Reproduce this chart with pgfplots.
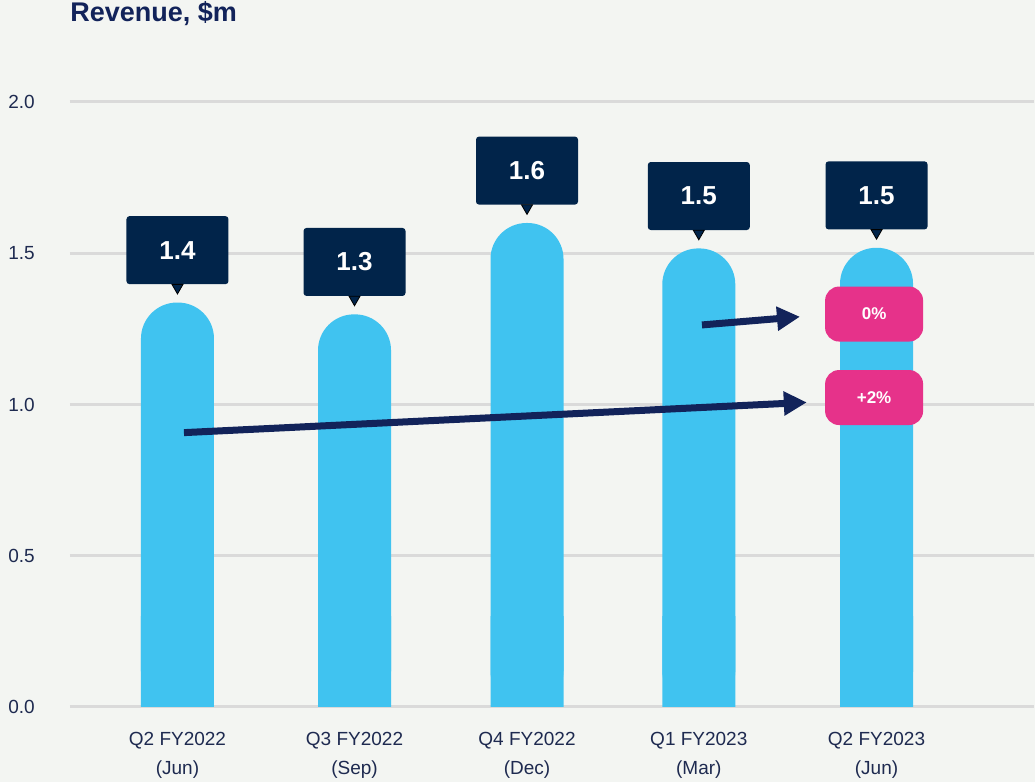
\documentclass[border=0pt]{standalone}
\usepackage{pgfplots}
\pgfplotsset{compat=1.18}
\usepackage{pgfplotstable}
\usepackage{fontspec}
\setmainfont{Liberation Sans}
\usetikzlibrary{arrows.meta}
\definecolor{bgc}{RGB}{243,245,242}
\definecolor{barc}{RGB}{64,195,240}
\definecolor{navy}{RGB}{1,36,74}
\definecolor{arrowc}{RGB}{18,35,90}
\definecolor{pinkc}{RGB}{230,50,138}
\definecolor{gridc}{RGB}{218,218,218}
\definecolor{tickc}{RGB}{30,42,80}

\pgfplotstableread{
x v base lab
0 1.337 0.3 1.4
1.013 1.298 0.3 1.3
2 1.600 0.3 1.6
2.983 1.516 0.3 1.5
4 1.518 0.3 1.5
}\revenue

\begin{document}
\begin{tikzpicture}
\useasboundingbox (-35pt,-37.5pt) rectangle (482.5pt,353.5pt);
\fill[bgc] (-35pt,-37.5pt) rectangle (482.5pt,353.5pt);
\begin{axis}[
  scale only axis, width=482pt, height=302.5pt,
  at={(0,0)}, anchor=south west,
  xmin=-0.615, xmax=4.901, ymin=0, ymax=2,
  clip=false,
  axis line style={draw=none},
  major tick length=0pt,
  ytick={0,0.5,1,1.5,2},
  yticklabels={0.0,0.5,1.0,1.5,2.0},
  ymajorgrids, grid style={gridc, line width=1.5pt},
  yticklabel style={font=\fontsize{9.5}{11}\selectfont, text=tickc, anchor=west, inner sep=0pt, xshift=-31pt},
  xtick={0,1.013,2,2.983,4},
  xticklabels={Q2 FY2022\\(Jun), Q3 FY2022\\(Sep), Q4 FY2022\\(Dec), Q1 FY2023\\(Mar), Q2 FY2023\\(Jun)},
  xticklabel style={align=center, font=\fontsize{9.5}{14.5}\selectfont, text=tickc, yshift=-9pt},
]
\addplot[ybar, bar width=36.5pt, fill=barc, draw=none] table[x=x, y=base] {\revenue};
\addplot[ybar, bar width=36.5pt, fill=barc, draw=none, rounded corners=18pt,
  nodes near coords, point meta=explicit symbolic,
  every node near coord/.append style={rectangle, fill=navy, text=white,
    font=\bfseries\fontsize{13}{15}\selectfont, minimum width=51pt, minimum height=34pt,
    inner sep=0pt, rounded corners=1.5pt, anchor=south, yshift=9pt}
  ] table[x=x, y=v, meta=lab] {\revenue};
% callout pointers
\addplot[only marks, mark=triangle*, mark size=3.2pt,
  mark options={fill=navy, draw=none, yshift=7.5pt, rotate=180}] table[x=x, y=v] {\revenue};

\draw[arrowc, line width=3.5pt, -{Triangle[length=11.5pt,width=11.5pt]}] (axis cs:3.001,1.263) -- (axis cs:3.562,1.290);
\draw[arrowc, line width=3.5pt, -{Triangle[length=11.5pt,width=11.5pt]}] (axis cs:0.037,0.907) -- (axis cs:3.601,1.007);

\node[fill=pinkc, text=white, font=\bfseries\fontsize{8.5}{10}\selectfont, minimum width=49pt, minimum height=27.5pt, rounded corners=7pt, inner sep=0pt] at (axis cs:3.986,1.299) {0\%};
\node[fill=pinkc, text=white, font=\bfseries\fontsize{8.5}{10}\selectfont, minimum width=49pt, minimum height=27.5pt, rounded corners=7pt, inner sep=0pt] at (axis cs:3.986,1.023) {+2\%};

\node[anchor=west, inner sep=0pt, font=\bfseries\fontsize{13.5}{16}\selectfont, text=arrowc] at (rel axis cs:0,1.1455) {Revenue, \$m};
\end{axis}
\end{tikzpicture}
\end{document}
